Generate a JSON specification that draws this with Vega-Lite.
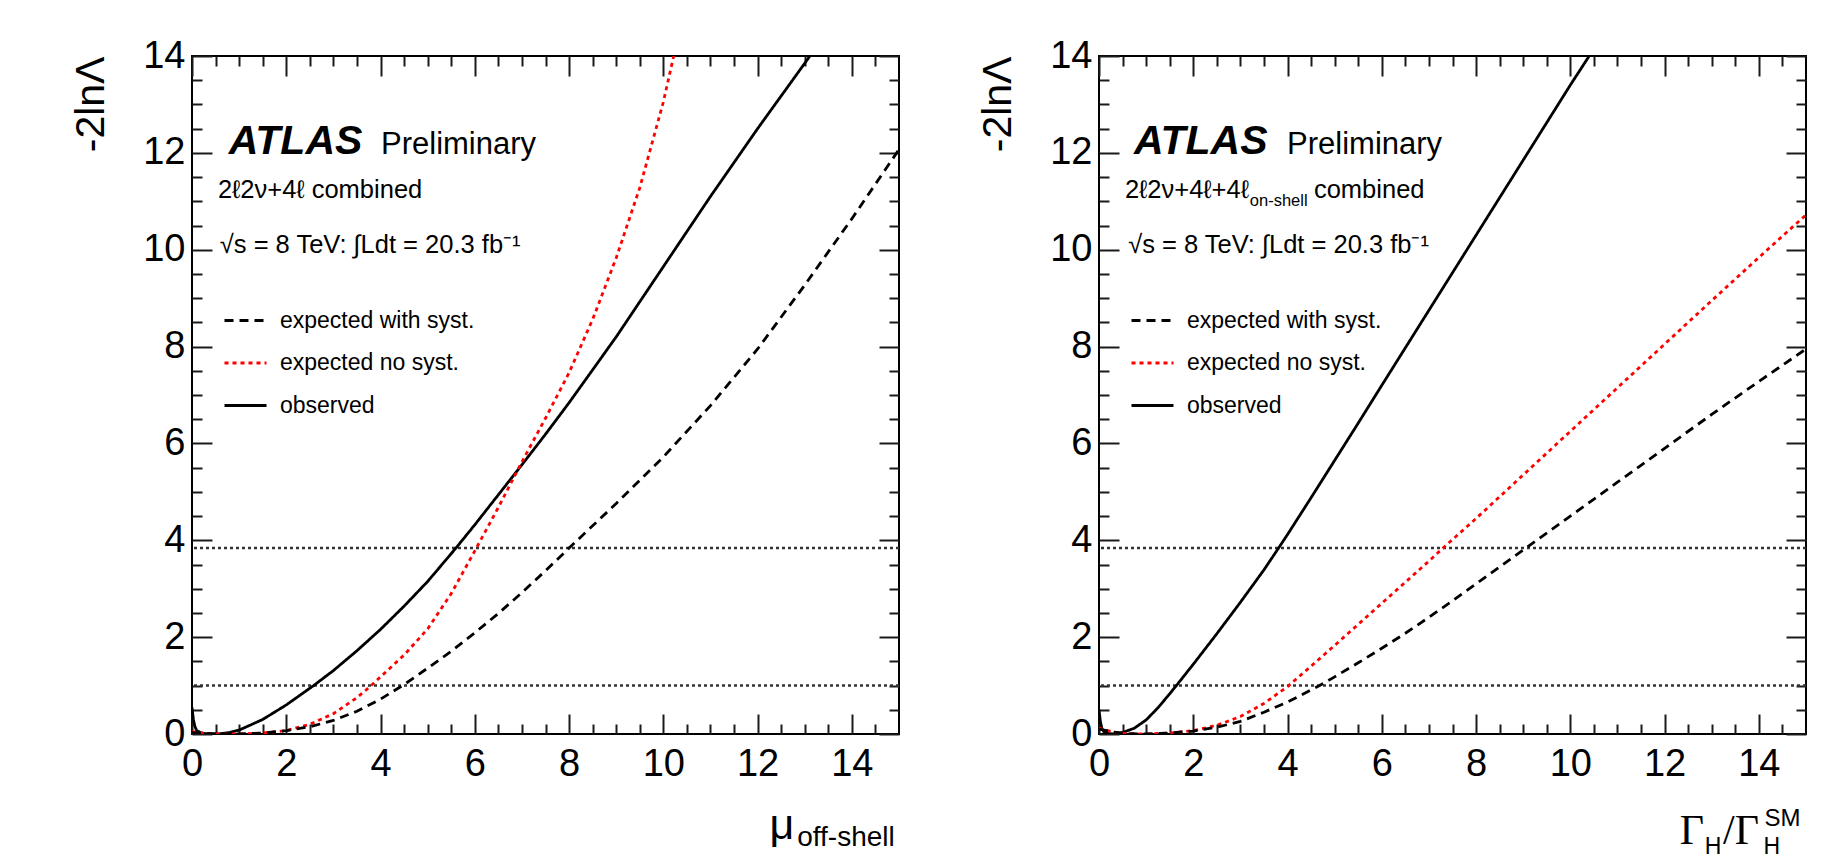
{
  "$schema": "https://vega.github.io/schema/vega-lite/v6.json",
  "background": "white",
  "padding": {"left": 69, "top": 36, "right": 20, "bottom": 5},
  "bounds": "flush",
  "spacing": 200,
  "datasets": {
    "scan_mu": [
      {"x": 0, "y": 0.55, "series": "observed"},
      {"x": 0.03, "y": 0.3, "series": "observed"},
      {"x": 0.06, "y": 0.16, "series": "observed"},
      {"x": 0.1, "y": 0.07, "series": "observed"},
      {"x": 0.2, "y": 0.02, "series": "observed"},
      {"x": 0.35, "y": 0.0, "series": "observed"},
      {"x": 0.55, "y": 0.0, "series": "observed"},
      {"x": 0.8, "y": 0.03, "series": "observed"},
      {"x": 1.0, "y": 0.08, "series": "observed"},
      {"x": 1.5, "y": 0.3, "series": "observed"},
      {"x": 2.0, "y": 0.6, "series": "observed"},
      {"x": 2.58, "y": 1.0, "series": "observed"},
      {"x": 3.0, "y": 1.31, "series": "observed"},
      {"x": 3.5, "y": 1.72, "series": "observed"},
      {"x": 4.0, "y": 2.16, "series": "observed"},
      {"x": 4.5, "y": 2.64, "series": "observed"},
      {"x": 5.0, "y": 3.15, "series": "observed"},
      {"x": 5.6, "y": 3.84, "series": "observed"},
      {"x": 6.0, "y": 4.32, "series": "observed"},
      {"x": 6.5, "y": 4.94, "series": "observed"},
      {"x": 7.0, "y": 5.56, "series": "observed"},
      {"x": 7.5, "y": 6.19, "series": "observed"},
      {"x": 8.0, "y": 6.84, "series": "observed"},
      {"x": 9.0, "y": 8.2, "series": "observed"},
      {"x": 10.0, "y": 9.65, "series": "observed"},
      {"x": 11.0, "y": 11.1, "series": "observed"},
      {"x": 12.0, "y": 12.5, "series": "observed"},
      {"x": 13.0, "y": 13.85, "series": "observed"},
      {"x": 13.11, "y": 14.0, "series": "observed"},

      {"x": 0, "y": 0.05, "series": "expected no syst."},
      {"x": 0.3, "y": 0.01, "series": "expected no syst."},
      {"x": 0.6, "y": 0.0, "series": "expected no syst."},
      {"x": 1.0, "y": 0.0, "series": "expected no syst."},
      {"x": 1.5, "y": 0.02, "series": "expected no syst."},
      {"x": 2.0, "y": 0.07, "series": "expected no syst."},
      {"x": 2.5, "y": 0.2, "series": "expected no syst."},
      {"x": 3.0, "y": 0.42, "series": "expected no syst."},
      {"x": 3.5, "y": 0.75, "series": "expected no syst."},
      {"x": 3.8, "y": 1.0, "series": "expected no syst."},
      {"x": 4.0, "y": 1.18, "series": "expected no syst."},
      {"x": 4.5, "y": 1.63, "series": "expected no syst."},
      {"x": 5.0, "y": 2.17, "series": "expected no syst."},
      {"x": 5.5, "y": 2.9, "series": "expected no syst."},
      {"x": 6.0, "y": 3.78, "series": "expected no syst."},
      {"x": 6.5, "y": 4.68, "series": "expected no syst."},
      {"x": 7.0, "y": 5.62, "series": "expected no syst."},
      {"x": 7.5, "y": 6.52, "series": "expected no syst."},
      {"x": 8.0, "y": 7.46, "series": "expected no syst."},
      {"x": 8.5, "y": 8.56, "series": "expected no syst."},
      {"x": 9.0, "y": 9.83, "series": "expected no syst."},
      {"x": 9.5, "y": 11.28, "series": "expected no syst."},
      {"x": 10.0, "y": 13.05, "series": "expected no syst."},
      {"x": 10.22, "y": 14.0, "series": "expected no syst."},

      {"x": 0, "y": 0.03, "series": "expected with syst."},
      {"x": 0.5, "y": 0.0, "series": "expected with syst."},
      {"x": 1.0, "y": 0.0, "series": "expected with syst."},
      {"x": 1.5, "y": 0.02, "series": "expected with syst."},
      {"x": 2.0, "y": 0.07, "series": "expected with syst."},
      {"x": 2.5, "y": 0.15, "series": "expected with syst."},
      {"x": 3.0, "y": 0.28, "series": "expected with syst."},
      {"x": 3.5, "y": 0.47, "series": "expected with syst."},
      {"x": 4.0, "y": 0.72, "series": "expected with syst."},
      {"x": 4.5, "y": 1.02, "series": "expected with syst."},
      {"x": 5.0, "y": 1.36, "series": "expected with syst."},
      {"x": 5.5, "y": 1.71, "series": "expected with syst."},
      {"x": 6.0, "y": 2.09, "series": "expected with syst."},
      {"x": 6.5, "y": 2.49, "series": "expected with syst."},
      {"x": 7.0, "y": 2.92, "series": "expected with syst."},
      {"x": 7.5, "y": 3.37, "series": "expected with syst."},
      {"x": 8.0, "y": 3.84, "series": "expected with syst."},
      {"x": 9.0, "y": 4.76, "series": "expected with syst."},
      {"x": 10.0, "y": 5.72, "series": "expected with syst."},
      {"x": 11.0, "y": 6.78, "series": "expected with syst."},
      {"x": 12.0, "y": 7.95, "series": "expected with syst."},
      {"x": 13.0, "y": 9.27, "series": "expected with syst."},
      {"x": 14.0, "y": 10.64, "series": "expected with syst."},
      {"x": 15.0, "y": 12.07, "series": "expected with syst."}
    ],
    "scan_width": [
      {"x": 0, "y": 0.5, "series": "observed"},
      {"x": 0.03, "y": 0.25, "series": "observed"},
      {"x": 0.06, "y": 0.12, "series": "observed"},
      {"x": 0.1, "y": 0.05, "series": "observed"},
      {"x": 0.2, "y": 0.01, "series": "observed"},
      {"x": 0.33, "y": 0.0, "series": "observed"},
      {"x": 0.5, "y": 0.03, "series": "observed"},
      {"x": 0.75, "y": 0.12, "series": "observed"},
      {"x": 1.0, "y": 0.29, "series": "observed"},
      {"x": 1.25, "y": 0.54, "series": "observed"},
      {"x": 1.5, "y": 0.83, "series": "observed"},
      {"x": 1.65, "y": 1.01, "series": "observed"},
      {"x": 2.0, "y": 1.44, "series": "observed"},
      {"x": 2.5, "y": 2.07, "series": "observed"},
      {"x": 3.0, "y": 2.72, "series": "observed"},
      {"x": 3.5, "y": 3.39, "series": "observed"},
      {"x": 3.81, "y": 3.84, "series": "observed"},
      {"x": 4.0, "y": 4.12, "series": "observed"},
      {"x": 4.5, "y": 4.88, "series": "observed"},
      {"x": 5.0, "y": 5.65, "series": "observed"},
      {"x": 5.5, "y": 6.42, "series": "observed"},
      {"x": 6.0, "y": 7.2, "series": "observed"},
      {"x": 7.0, "y": 8.75, "series": "observed"},
      {"x": 8.0, "y": 10.3, "series": "observed"},
      {"x": 9.0, "y": 11.85, "series": "observed"},
      {"x": 10.0, "y": 13.4, "series": "observed"},
      {"x": 10.4, "y": 14.0, "series": "observed"},

      {"x": 0, "y": 0.12, "series": "expected no syst."},
      {"x": 0.3, "y": 0.04, "series": "expected no syst."},
      {"x": 0.6, "y": 0.01, "series": "expected no syst."},
      {"x": 1.0, "y": 0.0, "series": "expected no syst."},
      {"x": 1.5, "y": 0.02, "series": "expected no syst."},
      {"x": 2.0, "y": 0.07, "series": "expected no syst."},
      {"x": 2.5, "y": 0.18, "series": "expected no syst."},
      {"x": 3.0, "y": 0.36, "series": "expected no syst."},
      {"x": 3.5, "y": 0.63, "series": "expected no syst."},
      {"x": 4.0, "y": 0.98, "series": "expected no syst."},
      {"x": 4.5, "y": 1.4, "series": "expected no syst."},
      {"x": 5.0, "y": 1.83, "series": "expected no syst."},
      {"x": 6.0, "y": 2.7, "series": "expected no syst."},
      {"x": 7.0, "y": 3.57, "series": "expected no syst."},
      {"x": 7.3, "y": 3.84, "series": "expected no syst."},
      {"x": 8.0, "y": 4.45, "series": "expected no syst."},
      {"x": 9.0, "y": 5.35, "series": "expected no syst."},
      {"x": 10.0, "y": 6.25, "series": "expected no syst."},
      {"x": 11.0, "y": 7.15, "series": "expected no syst."},
      {"x": 12.0, "y": 8.05, "series": "expected no syst."},
      {"x": 13.0, "y": 8.95, "series": "expected no syst."},
      {"x": 14.0, "y": 9.84, "series": "expected no syst."},
      {"x": 15.0, "y": 10.72, "series": "expected no syst."},

      {"x": 0, "y": 0.1, "series": "expected with syst."},
      {"x": 0.3, "y": 0.04, "series": "expected with syst."},
      {"x": 0.6, "y": 0.01, "series": "expected with syst."},
      {"x": 1.0, "y": 0.0, "series": "expected with syst."},
      {"x": 1.5, "y": 0.02, "series": "expected with syst."},
      {"x": 2.0, "y": 0.06, "series": "expected with syst."},
      {"x": 2.5, "y": 0.14, "series": "expected with syst."},
      {"x": 3.0, "y": 0.26, "series": "expected with syst."},
      {"x": 3.5, "y": 0.45, "series": "expected with syst."},
      {"x": 4.0, "y": 0.66, "series": "expected with syst."},
      {"x": 4.68, "y": 1.0, "series": "expected with syst."},
      {"x": 5.0, "y": 1.18, "series": "expected with syst."},
      {"x": 5.5, "y": 1.47, "series": "expected with syst."},
      {"x": 6.0, "y": 1.77, "series": "expected with syst."},
      {"x": 6.5, "y": 2.08, "series": "expected with syst."},
      {"x": 7.0, "y": 2.41, "series": "expected with syst."},
      {"x": 7.5, "y": 2.75, "series": "expected with syst."},
      {"x": 8.0, "y": 3.1, "series": "expected with syst."},
      {"x": 8.5, "y": 3.45, "series": "expected with syst."},
      {"x": 9.0, "y": 3.8, "series": "expected with syst."},
      {"x": 10.0, "y": 4.5, "series": "expected with syst."},
      {"x": 11.0, "y": 5.2, "series": "expected with syst."},
      {"x": 12.0, "y": 5.9, "series": "expected with syst."},
      {"x": 13.0, "y": 6.6, "series": "expected with syst."},
      {"x": 14.0, "y": 7.28, "series": "expected with syst."},
      {"x": 15.0, "y": 7.95, "series": "expected with syst."}
    ],
    "thresholds": [
      {"level": 1.0},
      {"level": 3.84}
    ],
    "notes_mu": [
      {"role": "experiment", "text": "ATLAS", "x": 0.78, "y": 11.98},
      {"role": "status", "text": "Preliminary", "x": 4.01, "y": 11.98},
      {"role": "info", "text": "2ℓ2ν+4ℓ combined", "x": 0.55, "y": 11.07},
      {"role": "info", "text": "√s = 8 TeV: ∫Ldt = 20.3 fb⁻¹", "x": 0.59, "y": 9.93},
      {"role": "xtitle", "text": "μ", "x": 12.25, "y": -2.17},
      {"role": "xtitle_sub", "text": "off-shell", "x": 12.84, "y": -2.31}
    ],
    "notes_width": [
      {"role": "experiment", "text": "ATLAS", "x": 0.74, "y": 11.98},
      {"role": "status", "text": "Preliminary", "x": 3.99, "y": 11.98},
      {"role": "info", "text": "2ℓ2ν+4ℓ+4ℓ", "x": 0.55, "y": 11.07},
      {"role": "info_sub", "text": "on-shell", "x": 3.2, "y": 10.9},
      {"role": "info", "text": "combined", "x": 4.56, "y": 11.07},
      {"role": "info", "text": "√s = 8 TeV: ∫Ldt = 20.3 fb⁻¹", "x": 0.62, "y": 9.93},
      {"role": "xtitle_greek", "text": "Γ", "x": 12.32, "y": -2.27},
      {"role": "xtitle_greek", "text": "/Γ", "x": 13.24, "y": -2.27},
      {"role": "xtitle_sub", "text": "H", "x": 12.85, "y": -2.48},
      {"role": "xtitle_sub", "text": "H", "x": 14.1, "y": -2.48},
      {"role": "xtitle_sup", "text": "SM", "x": 14.12, "y": -1.9}
    ]
  },
  "hconcat": [
    {
      "width": 707,
      "height": 678,
      "layer": [
        {
          "data": {"name": "thresholds"},
          "mark": {"type": "rule", "color": "#333333", "strokeWidth": 2.5, "strokeDash": [3, 3]},
          "encoding": {
            "y": {"field": "level", "type": "quantitative", "scale": {"domain": [0, 14], "nice": false}, "axis": null}
          }
        },
        {
          "data": {"name": "scan_mu"},
          "mark": {"type": "line", "strokeWidth": 2.8, "clip": true},
          "encoding": {
            "x": {"field": "x", "type": "quantitative", "scale": {"domain": [0, 15], "nice": false, "zero": false},
              "axis": {"orient": "bottom", "values": [0, 2, 4, 6, 8, 10, 12, 14], "tickSize": -20, "labelPadding": 31, "labelFontSize": 38, "labelFlush": false, "labelOverlap": false, "labelBound": false, "title": null}},
            "y": {"field": "y", "type": "quantitative", "scale": {"domain": [0, 14], "nice": false},
              "axis": {"orient": "left", "values": [0, 2, 4, 6, 8, 10, 12, 14], "tickSize": -20, "labelPadding": 27, "labelFontSize": 38, "labelFlush": false, "labelOverlap": false, "labelBound": false,
                "title": "-2lnΛ", "titleFontSize": 41, "titleFontWeight": "normal", "titleAnchor": "end", "titlePadding": 30}},
            "color": {"field": "series", "type": "nominal",
              "scale": {"domain": ["expected with syst.", "expected no syst.", "observed"], "range": ["#000000", "#ff0000", "#000000"]},
              "legend": {"orient": "none", "legendX": 31, "legendY": 242, "title": null, "symbolType": "stroke", "symbolSize": 1764, "symbolStrokeWidth": 3, "labelFontSize": 23, "labelOffset": 12, "labelLimit": 0, "rowPadding": 7.5, "padding": 0}},
            "strokeDash": {"field": "series", "type": "nominal",
              "scale": {"domain": ["expected with syst.", "expected no syst.", "observed"], "range": [[9, 6], [4, 4], [1, 0]]},
              "legend": {"orient": "none", "legendX": 31, "legendY": 242, "title": null, "symbolType": "stroke", "symbolSize": 1764, "symbolStrokeWidth": 3, "labelFontSize": 23, "labelOffset": 12, "labelLimit": 0, "rowPadding": 7.5, "padding": 0}}
          }
        },
        {
          "data": {"name": "notes_mu"},
          "transform": [{"filter": "datum.role === 'experiment'"}],
          "mark": {"type": "text", "fontSize": 41, "fontWeight": "bold", "fontStyle": "italic"},
          "encoding": {
            "x": {"field": "x", "type": "quantitative", "axis": {"orient": "top", "values": [0, 2, 4, 6, 8, 10, 12, 14], "tickSize": -20, "labels": false, "title": null}},
            "y": {"field": "y", "type": "quantitative", "axis": {"orient": "right", "values": [0, 2, 4, 6, 8, 10, 12, 14], "tickSize": -20, "labels": false, "title": null}},
            "text": {"field": "text"}
          }
        },
        {
          "data": {"name": "notes_mu"},
          "transform": [{"filter": "datum.role === 'status'"}],
          "mark": {"type": "text", "fontSize": 31},
          "encoding": {
            "x": {"field": "x", "type": "quantitative", "axis": {"orient": "bottom", "values": [0.5, 1, 1.5, 2.5, 3, 3.5, 4.5, 5, 5.5, 6.5, 7, 7.5, 8.5, 9, 9.5, 10.5, 11, 11.5, 12.5, 13, 13.5, 14.5], "tickSize": -10, "labels": false, "title": null}},
            "y": {"field": "y", "type": "quantitative", "axis": {"orient": "left", "values": [0.5, 1, 1.5, 2.5, 3, 3.5, 4.5, 5, 5.5, 6.5, 7, 7.5, 8.5, 9, 9.5, 10.5, 11, 11.5, 12.5, 13, 13.5], "tickSize": -10, "labels": false, "title": null}},
            "text": {"field": "text"}
          }
        },
        {
          "data": {"name": "notes_mu"},
          "transform": [{"filter": "datum.role === 'info'"}],
          "mark": {"type": "text", "fontSize": 25.5},
          "encoding": {
            "x": {"field": "x", "type": "quantitative", "axis": {"orient": "top", "values": [0.5, 1, 1.5, 2.5, 3, 3.5, 4.5, 5, 5.5, 6.5, 7, 7.5, 8.5, 9, 9.5, 10.5, 11, 11.5, 12.5, 13, 13.5, 14.5], "tickSize": -10, "labels": false, "title": null}},
            "y": {"field": "y", "type": "quantitative", "axis": {"orient": "right", "values": [0.5, 1, 1.5, 2.5, 3, 3.5, 4.5, 5, 5.5, 6.5, 7, 7.5, 8.5, 9, 9.5, 10.5, 11, 11.5, 12.5, 13, 13.5], "tickSize": -10, "labels": false, "title": null}},
            "text": {"field": "text"}
          }
        },
        {
          "data": {"name": "notes_mu"},
          "transform": [{"filter": "datum.role === 'xtitle'"}],
          "mark": {"type": "text", "fontSize": 43},
          "encoding": {
            "x": {"field": "x", "type": "quantitative", "axis": null},
            "y": {"field": "y", "type": "quantitative", "axis": null},
            "text": {"field": "text"}
          }
        },
        {
          "data": {"name": "notes_mu"},
          "transform": [{"filter": "datum.role === 'xtitle_sub'"}],
          "mark": {"type": "text", "fontSize": 28},
          "encoding": {
            "x": {"field": "x", "type": "quantitative", "axis": null},
            "y": {"field": "y", "type": "quantitative", "axis": null},
            "text": {"field": "text"}
          }
        }
      ]
    },
    {
      "width": 707,
      "height": 678,
      "layer": [
        {
          "data": {"name": "thresholds"},
          "mark": {"type": "rule", "color": "#333333", "strokeWidth": 2.5, "strokeDash": [3, 3]},
          "encoding": {
            "y": {"field": "level", "type": "quantitative", "scale": {"domain": [0, 14], "nice": false}, "axis": null}
          }
        },
        {
          "data": {"name": "scan_width"},
          "mark": {"type": "line", "strokeWidth": 2.8, "clip": true},
          "encoding": {
            "x": {"field": "x", "type": "quantitative", "scale": {"domain": [0, 15], "nice": false, "zero": false},
              "axis": {"orient": "bottom", "values": [0, 2, 4, 6, 8, 10, 12, 14], "tickSize": -20, "labelPadding": 31, "labelFontSize": 38, "labelFlush": false, "labelOverlap": false, "labelBound": false, "title": null}},
            "y": {"field": "y", "type": "quantitative", "scale": {"domain": [0, 14], "nice": false},
              "axis": {"orient": "left", "values": [0, 2, 4, 6, 8, 10, 12, 14], "tickSize": -20, "labelPadding": 27, "labelFontSize": 38, "labelFlush": false, "labelOverlap": false, "labelBound": false,
                "title": "-2lnΛ", "titleFontSize": 41, "titleFontWeight": "normal", "titleAnchor": "end", "titlePadding": 30}},
            "color": {"field": "series", "type": "nominal",
              "scale": {"domain": ["expected with syst.", "expected no syst.", "observed"], "range": ["#000000", "#ff0000", "#000000"]},
              "legend": {"orient": "none", "legendX": 31, "legendY": 242, "title": null, "symbolType": "stroke", "symbolSize": 1764, "symbolStrokeWidth": 3, "labelFontSize": 23, "labelOffset": 12, "labelLimit": 0, "rowPadding": 7.5, "padding": 0}},
            "strokeDash": {"field": "series", "type": "nominal",
              "scale": {"domain": ["expected with syst.", "expected no syst.", "observed"], "range": [[9, 6], [4, 4], [1, 0]]},
              "legend": {"orient": "none", "legendX": 31, "legendY": 242, "title": null, "symbolType": "stroke", "symbolSize": 1764, "symbolStrokeWidth": 3, "labelFontSize": 23, "labelOffset": 12, "labelLimit": 0, "rowPadding": 7.5, "padding": 0}}
          }
        },
        {
          "data": {"name": "notes_width"},
          "transform": [{"filter": "datum.role === 'experiment'"}],
          "mark": {"type": "text", "fontSize": 41, "fontWeight": "bold", "fontStyle": "italic"},
          "encoding": {
            "x": {"field": "x", "type": "quantitative", "axis": {"orient": "top", "values": [0, 2, 4, 6, 8, 10, 12, 14], "tickSize": -20, "labels": false, "title": null}},
            "y": {"field": "y", "type": "quantitative", "axis": {"orient": "right", "values": [0, 2, 4, 6, 8, 10, 12, 14], "tickSize": -20, "labels": false, "title": null}},
            "text": {"field": "text"}
          }
        },
        {
          "data": {"name": "notes_width"},
          "transform": [{"filter": "datum.role === 'status'"}],
          "mark": {"type": "text", "fontSize": 31},
          "encoding": {
            "x": {"field": "x", "type": "quantitative", "axis": {"orient": "bottom", "values": [0.5, 1, 1.5, 2.5, 3, 3.5, 4.5, 5, 5.5, 6.5, 7, 7.5, 8.5, 9, 9.5, 10.5, 11, 11.5, 12.5, 13, 13.5, 14.5], "tickSize": -10, "labels": false, "title": null}},
            "y": {"field": "y", "type": "quantitative", "axis": {"orient": "left", "values": [0.5, 1, 1.5, 2.5, 3, 3.5, 4.5, 5, 5.5, 6.5, 7, 7.5, 8.5, 9, 9.5, 10.5, 11, 11.5, 12.5, 13, 13.5], "tickSize": -10, "labels": false, "title": null}},
            "text": {"field": "text"}
          }
        },
        {
          "data": {"name": "notes_width"},
          "transform": [{"filter": "datum.role === 'info'"}],
          "mark": {"type": "text", "fontSize": 25.5},
          "encoding": {
            "x": {"field": "x", "type": "quantitative", "axis": {"orient": "top", "values": [0.5, 1, 1.5, 2.5, 3, 3.5, 4.5, 5, 5.5, 6.5, 7, 7.5, 8.5, 9, 9.5, 10.5, 11, 11.5, 12.5, 13, 13.5, 14.5], "tickSize": -10, "labels": false, "title": null}},
            "y": {"field": "y", "type": "quantitative", "axis": {"orient": "right", "values": [0.5, 1, 1.5, 2.5, 3, 3.5, 4.5, 5, 5.5, 6.5, 7, 7.5, 8.5, 9, 9.5, 10.5, 11, 11.5, 12.5, 13, 13.5], "tickSize": -10, "labels": false, "title": null}},
            "text": {"field": "text"}
          }
        },
        {
          "data": {"name": "notes_width"},
          "transform": [{"filter": "datum.role === 'info_sub'"}],
          "mark": {"type": "text", "fontSize": 16.5},
          "encoding": {
            "x": {"field": "x", "type": "quantitative", "axis": null},
            "y": {"field": "y", "type": "quantitative", "axis": null},
            "text": {"field": "text"}
          }
        },
        {
          "data": {"name": "notes_width"},
          "transform": [{"filter": "datum.role === 'xtitle_greek'"}],
          "mark": {"type": "text", "fontSize": 42, "font": "Liberation Serif"},
          "encoding": {
            "x": {"field": "x", "type": "quantitative", "axis": null},
            "y": {"field": "y", "type": "quantitative", "axis": null},
            "text": {"field": "text"}
          }
        },
        {
          "data": {"name": "notes_width"},
          "transform": [{"filter": "datum.role === 'xtitle_sub'"}],
          "mark": {"type": "text", "fontSize": 23},
          "encoding": {
            "x": {"field": "x", "type": "quantitative", "axis": null},
            "y": {"field": "y", "type": "quantitative", "axis": null},
            "text": {"field": "text"}
          }
        },
        {
          "data": {"name": "notes_width"},
          "transform": [{"filter": "datum.role === 'xtitle_sup'"}],
          "mark": {"type": "text", "fontSize": 24},
          "encoding": {
            "x": {"field": "x", "type": "quantitative", "axis": null},
            "y": {"field": "y", "type": "quantitative", "axis": null},
            "text": {"field": "text"}
          }
        }
      ]
    }
  ],
  "resolve": {"scale": {"color": "independent", "strokeDash": "independent"}},
  "config": {
    "view": {"stroke": "#000000", "strokeWidth": 2},
    "axis": {
      "domain": false,
      "grid": false,
      "tickColor": "#1a1a1a",
      "tickWidth": 2,
      "labelColor": "#000000",
      "titleColor": "#000000",
      "labelFont": "Liberation Sans",
      "titleFont": "Liberation Sans"
    },
    "legend": {"labelFont": "Liberation Sans", "labelColor": "#000000"},
    "text": {"font": "Liberation Sans", "color": "#000000", "align": "left", "baseline": "alphabetic"}
  }
}
